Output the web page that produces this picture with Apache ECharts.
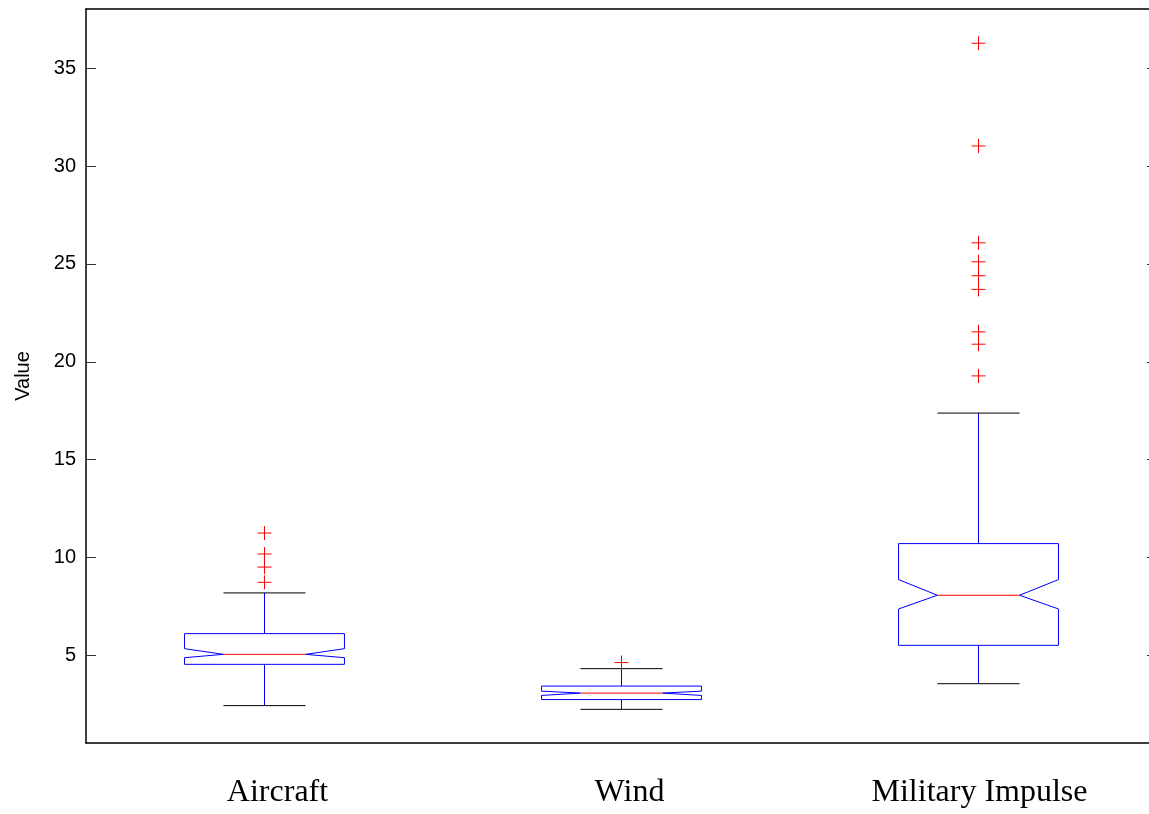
<!DOCTYPE html>
<html>
<head>
<meta charset="utf-8">
<title>Notched box plot</title>
<script src="https://cdn.jsdelivr.net/npm/echarts@6/dist/echarts.min.js"></script>
<style>
  html, body { margin: 0; padding: 0; background: #fff; }
  #chart { width: 1149px; height: 814px; }
</style>
</head>
<body>
<div id="chart"></div>
<script>
// Group names along the x axis
const categories = ['Aircraft', 'Wind', 'Military Impulse'];

// Box statistics per group
const whiskerLow  = [2.43, 2.24, 3.55];
const q1          = [4.54, 2.74, 5.51];
const notchLow    = [4.88, 2.95, 7.37];
const median      = [5.05, 3.07, 8.07];
const notchHigh   = [5.34, 3.17, 8.87];
const q3          = [6.11, 3.43, 10.71];
const whiskerHigh = [8.19, 4.32, 17.38];

// Points beyond the whiskers, per group
const outliers = [
  [11.25, 10.18, 9.51, 8.73],
  [4.63],
  [36.28, 31.03, 26.08, 25.11, 24.40, 23.70, 21.53, 20.90, 19.28]
];

// Value axis
const yTicks = [5, 10, 15, 20, 25, 30, 35];
const yMin = 0.52;
const yMax = 38.03;

const boxData = categories.map((_, i) => [
  i, whiskerLow[i], q1[i], notchLow[i], median[i], notchHigh[i], q3[i], whiskerHigh[i]
]);
const outlierData = [];
outliers.forEach((vals, i) => vals.forEach(v => outlierData.push([i, v])));

const BLUE = '#0000ff';
const RED = '#ff0000';

function renderBox(params, api) {
  const i = api.value(0);
  const band = api.size([1, 0])[0];
  const half = band * 0.224;
  const nHalf = band * 0.115;
  const cx = api.coord([i, 0])[0];
  const y = v => api.coord([i, v])[1];
  const yWL = y(api.value(1)), yQ1 = y(api.value(2)), yNL = y(api.value(3));
  const yMed = y(api.value(4)), yNH = y(api.value(5)), yQ3 = y(api.value(6));
  const yWH = y(api.value(7));
  const x0 = cx - half, x1 = cx + half, n0 = cx - nHalf, n1 = cx + nHalf;
  const line = (a, b, c, d, color) => ({
    type: 'line',
    shape: { x1: a, y1: b, x2: c, y2: d },
    style: { stroke: color, lineWidth: 1 }
  });
  return {
    type: 'group',
    children: [
      line(cx, yQ3, cx, yWH, BLUE),
      line(cx, yQ1, cx, yWL, BLUE),
      line(n0, yWH, n1, yWH, '#000'),
      line(n0, yWL, n1, yWL, '#000'),
      {
        type: 'polygon',
        shape: {
          points: [
            [x0, yQ3], [x1, yQ3], [x1, yNH], [n1, yMed], [x1, yNL], [x1, yQ1],
            [x0, yQ1], [x0, yNL], [n0, yMed], [x0, yNH]
          ]
        },
        style: { fill: 'none', stroke: BLUE, lineWidth: 1 }
      },
      line(n0, yMed, n1, yMed, RED)
    ]
  };
}

function renderPlus(params, api) {
  const p = api.coord([api.value(0), api.value(1)]);
  const r = 7;
  return {
    type: 'group',
    children: [
      { type: 'line', shape: { x1: p[0] - r, y1: p[1], x2: p[0] + r, y2: p[1] },
        style: { stroke: RED, lineWidth: 1 } },
      { type: 'line', shape: { x1: p[0], y1: p[1] - r, x2: p[0], y2: p[1] + r },
        style: { stroke: RED, lineWidth: 1 } }
    ]
  };
}

const axisLineStyle = { color: '#000', width: 1.5 };
const tickStyle = { color: '#333', width: 1 };

// Group labels sit slightly right of their ticks; left padding nudges each one
const serifLabel = {
  color: '#000',
  fontFamily: '"Liberation Serif", "Times New Roman", serif',
  fontSize: 32
};
const labelNudge = [26, 16, 2];
const richLabels = {};
labelNudge.forEach((p, i) => {
  richLabels['g' + i] = Object.assign({ padding: [0, 0, 0, p] }, serifLabel);
});

const chart = echarts.init(document.getElementById('chart'), null, { renderer: 'canvas' });
chart.setOption({
  animation: false,
  backgroundColor: '#fff',
  grid: {
    left: 86, right: -8, top: 9, bottom: 71,
    containLabel: false,
    outerBoundsMode: 'none'
  },
  xAxis: [
    {
      type: 'category',
      position: 'bottom',
      data: categories,
      boundaryGap: true,
      axisLine: { lineStyle: axisLineStyle },
      axisTick: { inside: true, alignWithLabel: true, length: 10, lineStyle: tickStyle },
      axisLabel: Object.assign({
        interval: 0,
        margin: 34,
        formatter: (value, index) => '{g' + index + '|' + value + '}',
        rich: richLabels
      }, serifLabel),
      splitLine: { show: false }
    },
    {
      type: 'category',
      position: 'top',
      data: categories,
      boundaryGap: true,
      axisLine: { lineStyle: axisLineStyle },
      axisTick: { inside: true, alignWithLabel: true, length: 10, lineStyle: tickStyle },
      axisLabel: { show: false },
      splitLine: { show: false }
    }
  ],
  yAxis: [
    {
      type: 'value',
      position: 'left',
      min: yMin,
      max: yMax,
      name: 'Value',
      nameLocation: 'middle',
      nameGap: 53,
      nameRotate: 90,
      nameTextStyle: { color: '#000', fontFamily: '"Liberation Sans", Arial, sans-serif', fontSize: 20 },
      axisLine: { show: true, lineStyle: axisLineStyle },
      axisTick: { show: true, inside: true, length: 10, customValues: yTicks, lineStyle: tickStyle },
      axisLabel: {
        customValues: yTicks,
        margin: 10,
        color: '#000',
        fontFamily: '"Liberation Sans", Arial, sans-serif',
        fontSize: 20
      },
      splitLine: { show: false }
    },
    {
      type: 'value',
      position: 'right',
      min: yMin,
      max: yMax,
      axisLine: { show: true, lineStyle: axisLineStyle },
      axisTick: { show: true, inside: true, length: 10, customValues: yTicks, lineStyle: tickStyle },
      axisLabel: { show: false },
      splitLine: { show: false }
    }
  ],
  series: [
    {
      type: 'custom',
      name: 'box',
      xAxisIndex: 0,
      yAxisIndex: 0,
      renderItem: renderBox,
      encode: { x: 0, y: [1, 2, 3, 4, 5, 6, 7] },
      data: boxData,
      clip: false
    },
    {
      type: 'custom',
      name: 'outliers',
      xAxisIndex: 0,
      yAxisIndex: 0,
      renderItem: renderPlus,
      encode: { x: 0, y: 1 },
      data: outlierData,
      clip: false
    }
  ]
});
</script>
</body>
</html>
